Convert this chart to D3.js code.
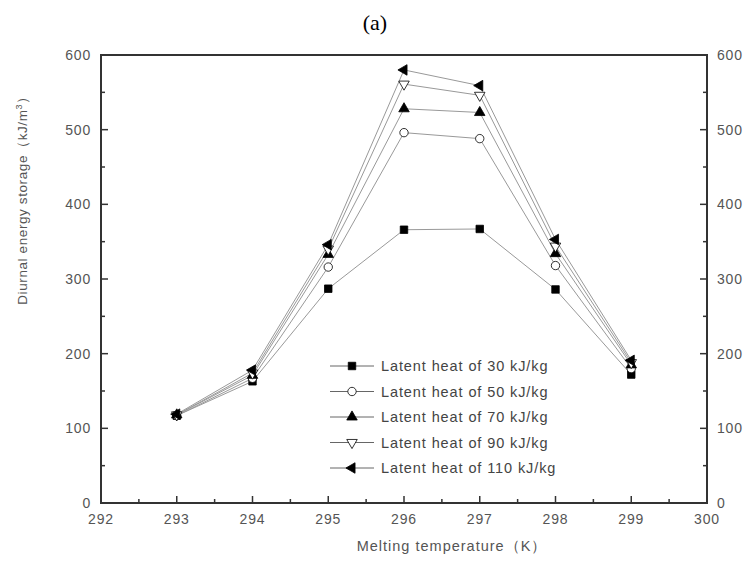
<!DOCTYPE html>
<html>
<head>
<meta charset="utf-8">
<script src="https://cdn.jsdelivr.net/npm/d3@7"></script>
<style>
  body { margin: 0; background: #fff; }
  svg { display: block; }
  .tick-label { font-family: "Liberation Sans", Arial, sans-serif; font-size: 14px; fill: #555; letter-spacing: 0.8px; }
  .axis-title { font-family: "Liberation Sans", Arial, sans-serif; font-size: 13.5px; fill: #555; letter-spacing: 0.6px; }
  .legend-text { font-family: "Liberation Sans", Arial, sans-serif; font-size: 14.5px; fill: #444; letter-spacing: 0.9px; }
</style>
</head>
<body>
<svg width="749" height="561"></svg>
<script>
// Data
var temps = [293, 294, 295, 296, 297, 298, 299];
var lh30 = [117, 163, 287, 366, 367, 286, 172];
var lh50 = [117, 167, 316, 496, 488, 318, 180];
var lh70 = [118, 171, 333, 528, 523, 334, 185];
var lh90 = [118, 174, 340, 561, 546, 344, 188];
var lh110 = [119, 178, 346, 580, 559, 353, 191];
var seriesNames = ["Latent heat of 30 kJ/kg", "Latent heat of 50 kJ/kg", "Latent heat of 70 kJ/kg",
  "Latent heat of 90 kJ/kg", "Latent heat of 110 kJ/kg"];
var xTicks = [292, 293, 294, 295, 296, 297, 298, 299, 300];
var yTicks = [0, 100, 200, 300, 400, 500, 600];

var series = [lh30, lh50, lh70, lh90, lh110].map(function (vals, i) {
  return { name: seriesNames[i], values: vals };
});

// marker styles: shape, fill, rotation
var markers = [
  { type: d3.symbolSquare, size: 56, fill: "#000", rot: 0 },
  { type: d3.symbolCircle, size: 55, fill: "#fff", rot: 0 },
  { type: d3.symbolTriangle, size: 48, fill: "#000", rot: 0 },
  { type: d3.symbolTriangle, size: 48, fill: "#fff", rot: 180 },
  { type: d3.symbolTriangle, size: 48, fill: "#000", rot: -90 }
];

var svg = d3.select("svg");
var pLeft = 101, pRight = 707, pTop = 55, pBottom = 503;

var x = d3.scaleLinear().domain([292, 300]).range([pLeft, pRight]);
var y = d3.scaleLinear().domain([0, 600]).range([pBottom, pTop]);

// Title
svg.append("text")
  .attr("x", 375).attr("y", 30)
  .attr("text-anchor", "middle")
  .style("font-family", "'Liberation Serif', 'Times New Roman', serif")
  .style("font-size", "22px")
  .style("fill", "#000")
  .text("(a)");

// Axes with inward ticks
var minorX = d3.range(292.5, 300, 1);
var minorY = d3.range(50, 600, 100);

function tickLines(sel, vals, scale, len, orient) {
  sel.selectAll(null).data(vals).enter().append("line")
    .attr("x1", function (d) { return orient === "x" ? scale(d) : len[0]; })
    .attr("x2", function (d) { return orient === "x" ? scale(d) : len[1]; })
    .attr("y1", function (d) { return orient === "x" ? len[0] : scale(d); })
    .attr("y2", function (d) { return orient === "x" ? len[1] : scale(d); })
    .attr("stroke", "#333").attr("stroke-width", 1.5);
}

var axes = svg.append("g");
tickLines(axes, xTicks, x, [pBottom, pBottom - 7], "x");
tickLines(axes, minorX, x, [pBottom, pBottom - 4], "x");
tickLines(axes, yTicks, y, [pLeft, pLeft + 7], "y");
tickLines(axes, minorY, y, [pLeft, pLeft + 4], "y");
tickLines(axes, yTicks, y, [pRight, pRight - 7], "y");
tickLines(axes, minorY, y, [pRight, pRight - 4], "y");

axes.append("rect")
  .attr("x", pLeft).attr("y", pTop)
  .attr("width", pRight - pLeft).attr("height", pBottom - pTop)
  .attr("fill", "none").attr("stroke", "#333").attr("stroke-width", 2);

// Tick labels
axes.selectAll(".xl").data(xTicks).enter().append("text")
  .attr("class", "tick-label")
  .attr("x", function (d) { return x(d); })
  .attr("y", pBottom + 21)
  .attr("text-anchor", "middle")
  .text(function (d) { return d; });

axes.selectAll(".yl").data(yTicks).enter().append("text")
  .attr("class", "tick-label")
  .attr("x", pLeft - 10)
  .attr("y", function (d) { return y(d) + 5; })
  .attr("text-anchor", "end")
  .text(function (d) { return d; });

axes.selectAll(".yr").data(yTicks).enter().append("text")
  .attr("class", "tick-label")
  .attr("x", pRight + 10)
  .attr("y", function (d) { return y(d) + 5; })
  .attr("text-anchor", "start")
  .text(function (d) { return d; });

// Axis titles
svg.append("text")
  .attr("class", "axis-title")
  .attr("x", 452).attr("y", 551)
  .attr("text-anchor", "middle")
  .style("font-size", "14.5px")
  .style("letter-spacing", "1px")
  .text("Melting temperature（K）");

svg.append("text")
  .attr("class", "axis-title")
  .attr("transform", "translate(27,197) rotate(-90)")
  .attr("text-anchor", "middle")
  .html("Diurnal energy storage（kJ/m<tspan dy='-5' font-size='9px'>3</tspan><tspan dy='5'>）</tspan>");

// Lines
var line = d3.line()
  .x(function (d, i) { return x(temps[i]); })
  .y(function (d) { return y(d); });

var plot = svg.append("g");
plot.selectAll(".series-line").data(series).enter().append("path")
  .attr("d", function (d) { return line(d.values); })
  .attr("fill", "none")
  .attr("stroke", "#999")
  .attr("stroke-width", 1);

function drawMarker(g, m, cx, cy) {
  g.append("path")
    .attr("d", d3.symbol().type(m.type).size(m.size)())
    .attr("transform", "translate(" + cx + "," + cy + ") rotate(" + m.rot + ")")
    .attr("fill", m.fill)
    .attr("stroke", "#000")
    .attr("stroke-width", 0.8);
}

series.forEach(function (s, si) {
  s.values.forEach(function (v, i) {
    drawMarker(plot, markers[si], x(temps[i]), y(v));
  });
});

// Legend
var legend = svg.append("g");
series.forEach(function (s, si) {
  var ly = 366 + si * 25.5;
  legend.append("line")
    .attr("x1", 330).attr("x2", 374)
    .attr("y1", ly).attr("y2", ly)
    .attr("stroke", "#666").attr("stroke-width", 1);
  drawMarker(legend, markers[si], 352, ly);
  legend.append("text")
    .attr("class", "legend-text")
    .attr("x", 381).attr("y", ly + 5)
    .text(s.name);
});
</script>
</body>
</html>
